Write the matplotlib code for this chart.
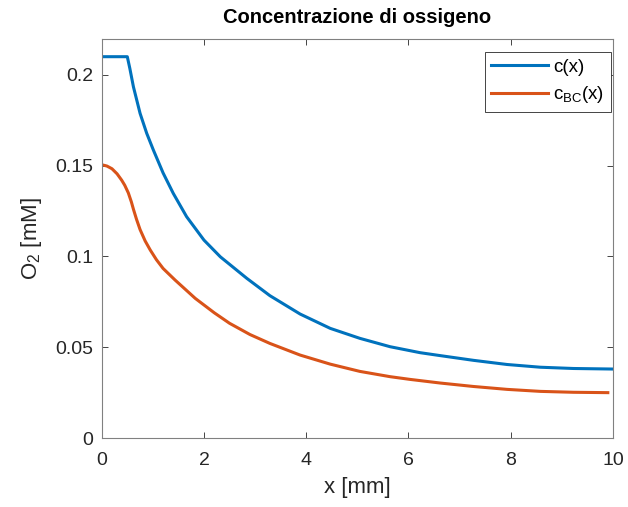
"""
Concentrazione di ossigeno: c(x) e c_BC(x)
"""

import matplotlib
matplotlib.use('Agg')
from matplotlib import pyplot as plt
from matplotlib.ticker import FuncFormatter

plt.rcParams['font.family'] = ['Liberation Sans', 'DejaVu Sans']
plt.rcParams['mathtext.default'] = 'regular'

# curva c(x)
x_c = [0, 0.5, 0.55, 0.62, 0.75, 0.88, 1.01, 1.2, 1.4, 1.66, 2.0, 2.32, 2.84,
       3.29, 3.88, 4.47, 5.05, 5.64, 6.23, 6.62, 7.27, 7.93, 8.58, 9.23, 10.0]
y_c = [0.21, 0.21, 0.2035, 0.1934, 0.1788, 0.1678, 0.1586, 0.1460, 0.1347, 0.1219,
       0.1090, 0.0998, 0.0879, 0.0784, 0.0683, 0.0604, 0.0549, 0.0503, 0.0470,
       0.0454, 0.0428, 0.0405, 0.0390, 0.0383, 0.0380]

# curva c_BC(x)
x_bc = [0, 0.1, 0.2, 0.3, 0.39, 0.45, 0.52, 0.58, 0.62, 0.68, 0.75, 0.85, 0.95,
        1.07, 1.2, 1.435, 1.83, 2.2, 2.5, 2.9, 3.29, 3.88, 4.47, 5.05, 5.64, 6.03,
        6.62, 7.27, 7.93, 8.58, 9.23, 9.9]
y_bc = [0.1505, 0.1498, 0.1483, 0.1455, 0.1420, 0.1392, 0.1350, 0.1300, 0.1260,
        0.1205, 0.1148, 0.1085, 0.1035, 0.0982, 0.0934, 0.0870, 0.0769, 0.0690,
        0.0632, 0.0570, 0.0521, 0.0457, 0.0407, 0.0367, 0.0338, 0.0323, 0.0303,
        0.0284, 0.0268, 0.0257, 0.0252, 0.0250]

x_ticks = [0, 2, 4, 6, 8, 10]
y_ticks = [0, 0.05, 0.1, 0.15, 0.2]

fig = plt.figure(figsize=(6.28, 5.07), dpi=100)
ax = fig.add_axes([0.162, 0.136, 0.814, 0.788])

ax.plot(x_c, y_c, color='#0072BD', lw=2.2, label='c(x)')
ax.plot(x_bc, y_bc, color='#D95319', lw=2.2, label='c$_{BC}$(x)')

ax.set_xlim(0, 10)
ax.set_ylim(0, 0.22)
ax.set_xticks(x_ticks)
ax.set_yticks(y_ticks)
ax.yaxis.set_major_formatter(FuncFormatter(lambda v, p: '%g' % v))
ax.tick_params(direction='in', top=True, right=True, labelsize=14,
               colors='#262626', length=4, width=0.6)
ax.tick_params(axis='x', pad=10)
ax.tick_params(axis='y', pad=6)
for s in ax.spines.values():
    s.set_color('#808080')
    s.set_linewidth(0.8)

ax.set_xlabel('x [mm]', fontsize=16, color='#262626', labelpad=6)
ax.set_ylabel('O$_2$ [mM]', fontsize=16, color='#262626', labelpad=8)
ax.set_title('Concentrazione di ossigeno', fontsize=14.5, fontweight='bold', pad=11)

leg = ax.legend(loc='upper right', bbox_to_anchor=(0.996, 0.966), fontsize=13.5,
                handlelength=3.0, fancybox=False, edgecolor='#262626',
                framealpha=1, borderaxespad=0, borderpad=0.35,
                labelspacing=0.45, handletextpad=0.3)
leg.get_frame().set_linewidth(0.6)

fig.savefig('out.png', dpi=100)
